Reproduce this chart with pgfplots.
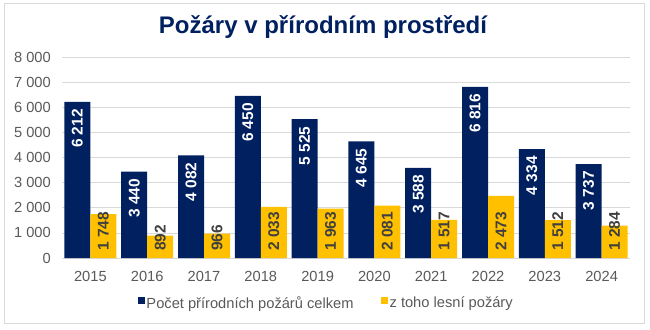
\documentclass[border=0pt]{standalone}
\usepackage{fontspec}
\setmainfont{Liberation Sans}
\usepackage{pgfplots}
\usepackage{pgfplotstable}
\pgfplotsset{compat=1.18}

\definecolor{navy}{HTML}{002060}
\definecolor{gold}{HTML}{FFC000}
\definecolor{txtgray}{HTML}{595959}
\definecolor{gridgray}{HTML}{D9D9D9}
\definecolor{lbldark}{HTML}{404040}

% pozary: celkem a z toho lesni
\pgfplotstableread{
x total forest base
0 6212 1748 0
1 3440 892 0
2 4082 966 0
3 6450 2033 0
4 5525 1963 0
5 4645 2081 0
6 3588 1517 0
7 6816 2473 0
8 4334 1512 0
9 3737 1284 0
}\fires

\begin{document}
\begin{tikzpicture}
\path[use as bounding box] (0bp,0bp) rectangle (650bp,330bp);
\draw[gridgray, line width=0.75bp] (4bp,7bp) rectangle (644bp,327bp);
\node[anchor=base, font=\bfseries\fontsize{24bp}{28bp}\selectfont, text=navy]
  at (323bp,296bp) {Požáry v přírodním prostředí};

\begin{axis}[
  at={(62bp,72bp)}, anchor=south west,
  scale only axis, width=568bp, height=201bp,
  xmin=-0.5, xmax=9.5, ymin=0, ymax=8000,
  ybar, bar width=26bp,
  xtick={0,...,9},
  xticklabels={2015,2016,2017,2018,2019,2020,2021,2022,2023,2024},
  ytick={0,1000,...,8000},
  ymajorgrids,
  grid style={gridgray, line width=0.75bp},
  axis x line*=bottom, axis y line*=left,
  x axis line style={gridgray, line width=0.75bp, -},
  y axis line style={draw=none},
  major tick length=0pt, tick style={draw=none},
  /pgf/number format/assume math mode=true,
  /pgf/number format/1000 sep={\ },
  ticklabel style={font=\fontsize{14.67bp}{17bp}\selectfont, text=txtgray},
  xticklabel style={anchor=base, inner sep=0pt, yshift=-23bp},
  yticklabel style={anchor=east, inner sep=0pt, xshift=-11bp},
  clip=false,
  legend style={draw=none, fill=none, at={(0.465,-0.224)}, anchor=center,
    font=\fontsize{14.67bp}{17bp}\selectfont, text=txtgray,
    nodes={inner sep=1.5bp},
    /tikz/every even column/.append style={column sep=26bp}},
  legend columns=2,
  legend image code/.code={\fill[#1] (0bp,-1bp) rectangle (7bp,6bp);},
]
\addplot[fill=navy, draw=none, bar shift=-13bp,
  nodes near coords,
  nodes near coords style={rotate=90, anchor=east, text=white,
    font=\bfseries\fontsize{15.5bp}{17bp}\selectfont,
    inner xsep=7bp, inner ysep=0pt}]
  table[x=x, y=total] {\fires};
\addlegendentry{Počet přírodních požárů celkem}
\addplot[fill=gold, draw=none, bar shift=13bp]
  table[x=x, y=forest] {\fires};
\addlegendentry{z toho lesní požáry}
% popisky zlutych sloupcu u zakladny
\addplot[forget plot, draw=none, fill=none, bar shift=13bp,
  point meta=explicit, nodes near coords,
  nodes near coords style={rotate=90, anchor=west, text=lbldark,
    font=\bfseries\fontsize{15.5bp}{17bp}\selectfont,
    inner xsep=7bp, inner ysep=0pt}]
  table[x=x, y=base, meta=forest] {\fires};
\end{axis}
\end{tikzpicture}
\end{document}
